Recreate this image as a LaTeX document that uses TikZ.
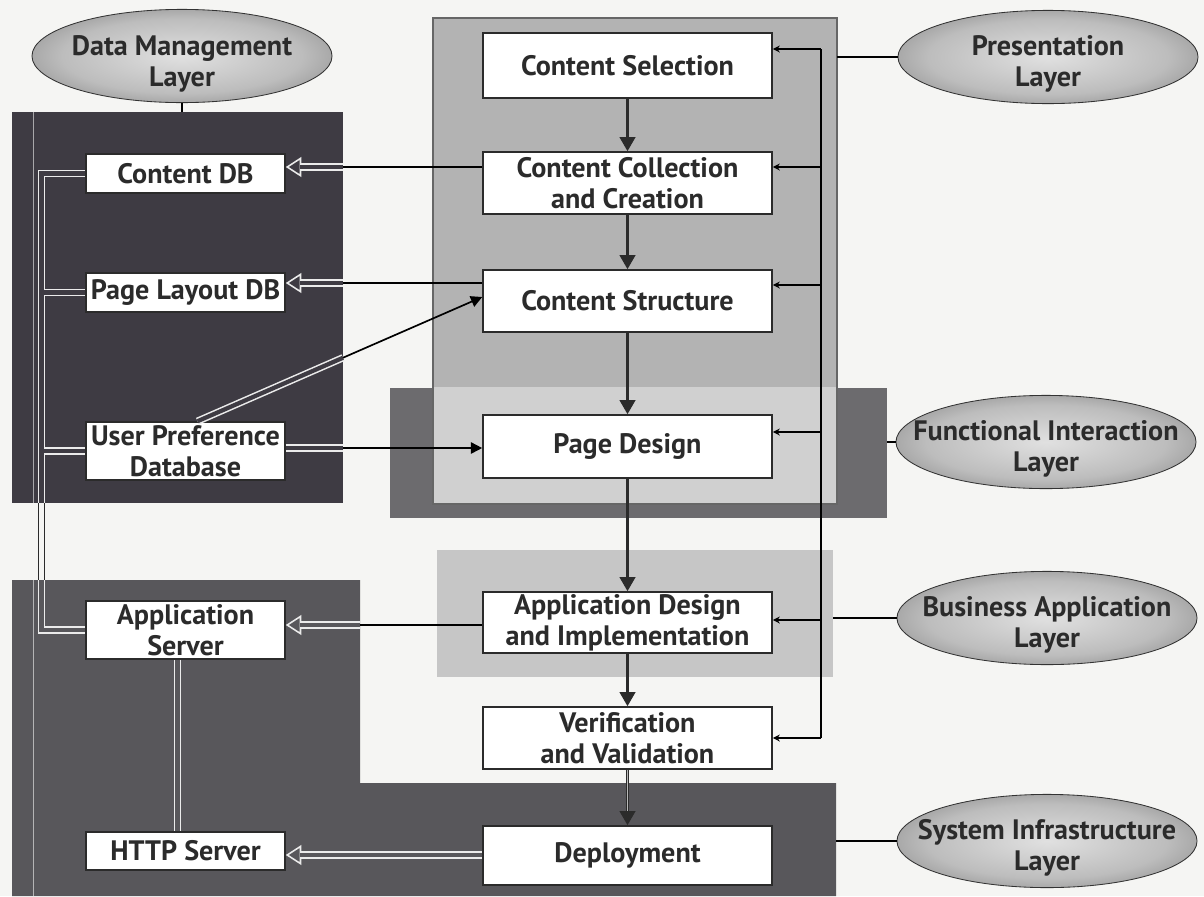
\documentclass[tikz,border=0pt]{standalone}
\usepackage{fontspec}
\setmainfont{PT Sans}
\usetikzlibrary{arrows.meta,shapes.geometric,calc}
\definecolor{pagebg}{HTML}{F5F5F3}
\definecolor{dmcol}{HTML}{3E3B43}
\definecolor{infcol}{HTML}{58575B}
\definecolor{fincol}{HTML}{6C6B6E}
\definecolor{prcol}{HTML}{B3B3B3}
\definecolor{prlow}{HTML}{D0D0D0}
\definecolor{bacol}{HTML}{C6C6C6}
\definecolor{ink}{HTML}{2B2B2B}
\pgfdeclareradialshading{layershade}{\pgfpoint{0bp}{0bp}}{color(0bp)=(white!88!black); color(20bp)=(white!74!black); color(32bp)=(black!45); color(42bp)=(black!74); color(50bp)=(black!90)}
\begin{document}
\begin{tikzpicture}[x=0.025cm,y=-0.025cm,
  font=\bfseries\fontsize{20}{22}\selectfont,
  box/.style={draw=ink, line width=1.1pt, fill=white, text=ink, align=center, inner sep=0pt},
  cbox/.style={box, minimum width=7.225cm},
  lbox/.style={box, minimum width=4.975cm},
  layer/.style={ellipse, draw=black!80, line width=0.6pt, shade, shading=layershade,
    minimum width=7.5cm, minimum height=2.33cm, inner sep=0pt},
  ltext/.style={align=center, text=ink, inner sep=0pt},
  flow/.style={draw=ink, line width=1.8pt, -{Triangle[length=10pt,width=11pt]}},
  blk/.style={draw=black, line width=1.2pt},
  blkarrow/.style={blk, -{Triangle[length=8pt,width=8pt]}},
  fb/.style={draw=black, line width=0.9pt},
  fbarrow/.style={fb, -{Stealth[length=5pt,width=5pt]}},
  tipo/.style={draw=white!92!black, line width=1.1pt, -{Triangle[open,length=11pt,width=14pt]}},
  pipe/.style={draw=white!92!black, line width=1.1pt, double=dmcol, double distance=3pt},
  busw/.style={draw=white!92!black, line width=5.2pt},
  busc/.style={line width=3pt}
]
\useasboundingbox (0,0) rectangle (1204,896);
\fill[pagebg] (0,0) rectangle (1204,896);
% background regions
\fill[fincol] (390,388) rectangle (887,518);
\fill[prcol] (433,18) rectangle (837,504);
\fill[prlow] (433,387) rectangle (837,504);
\draw[black!60, line width=1.1pt] (433,18) rectangle (837,504);
\fill[bacol] (437,550) rectangle (833,677);
\fill[dmcol] (12,112) rectangle (343,503);
\fill[infcol] (12,580) -- (360,580) -- (360,783) -- (836,783) -- (836,896) -- (12,896) -- cycle;
\draw[white!55!dmcol, line width=0.4pt] (33,112) -- (33,503);
\draw[white!55!infcol, line width=0.4pt] (33,580) -- (33,896);

% helper coordinates
\coordinate (bx) at (41.5,0);
\coordinate (dmR) at (343,0);
\coordinate (dmRt) at (343,112);
\coordinate (dmRb) at (343,503);
\coordinate (dmT) at (0,112);
\coordinate (dmB) at (0,503);
\coordinate (infT) at (0,580);
\coordinate (infR) at (360,0);
\coordinate (prR) at (837,0);
\coordinate (fiR) at (887,0);
\coordinate (baR) at (833,0);
\coordinate (siR) at (836,0);
\coordinate (l1) at (0,167);
\coordinate (l2) at (0,283);
\coordinate (l3) at (0,448);
\coordinate (l4) at (0,625);
\coordinate (l5) at (0,855);
\coordinate (f1) at (821,49);
\coordinate (f2) at (821,167);
\coordinate (f3) at (821,285);
\coordinate (f4) at (821,432);
\coordinate (f5) at (821,620);
\coordinate (f6) at (821,738);

% central process boxes
\node[cbox, minimum height=1.625cm] (cs)  at (627.5,65.5)  {Content Selection};
\node[cbox, minimum height=1.55cm]  (ccc) at (627.5,183)   {Content Collection\\and Creation};
\node[cbox, minimum height=1.55cm]  (cst) at (627.5,301)   {Content Structure};
\node[cbox, minimum height=1.575cm] (pd)  at (627.5,446.5) {Page Design};
\node[cbox, minimum height=1.525cm] (adi) at (627.5,622.5) {Application Design\\and Implementation};
\node[cbox, minimum height=1.55cm]  (vv)  at (627.5,738)   {Verification\\and Validation};
\node[cbox, minimum height=1.475cm] (dep) at (627.5,855.5) {Deployment};

% left boxes
\node[lbox, minimum height=0.975cm] (cdb)  at (185.5,173.5) {Content DB};
\node[lbox, minimum height=0.975cm] (pld)  at (185.5,292.5) {Page Layout DB};
\node[lbox, minimum height=1.45cm]  (up)   at (185.5,451)   {User Preference\\Database};
\node[lbox, minimum height=1.45cm]  (as)   at (185.5,630)   {Application\\Server};
\node[lbox, minimum height=0.95cm]  (http) at (185.5,851)   {HTTP Server};

% layer ellipses
\node[layer] (dml) at (182,56) {};
\node[ltext] (dmlt) at (182,64) {Data Management\\Layer};
\node[layer] (prl) at (1048,57) {};
\node[ltext] (prlt) at (1048,64) {Presentation\\Layer};
\node[layer] (fil) at (1046,442) {};
\node[ltext] (filt) at (1046,449) {Functional Interaction\\Layer};
\node[layer] (bal) at (1047,618) {};
\node[ltext] (balt) at (1047,625) {Business Application\\Layer};
\node[layer] (sil) at (1047,841) {};
\node[ltext] (silt) at (1047,848) {System Infrastructure\\Layer};

% layer connectors
\draw[blk] (dml.south) -- (dml.south |- dmT);
\draw[blk] (prl.west) -- (prl.west -| prR);
\draw[blk] (fil.west) -- (fil.west -| fiR);
\draw[blk] (bal.west) -- (bal.west -| baR);
\draw[blk] (sil.west) -- (sil.west -| siR);

% main flow
\draw[flow] (cs.south) -- (ccc.north);
\draw[flow] (ccc.south) -- (cst.north);
\draw[flow] (cst.south) -- (pd.north);
\draw[flow] (pd.south) -- (adi.north);
\draw[flow] (adi.south) -- (vv.north);
\draw[flow] (vv.south) -- (dep.north);
\draw[gray!55, line width=0.6pt, shorten >=10pt] (vv.south) -- (dep.north);

% feedback line on the right
\draw[fb] (f1) -- (f6);
\draw[fbarrow] (f1) -- (cs.east |- f1);
\draw[fbarrow] (f2) -- (ccc.east |- f2);
\draw[fbarrow] (f3) -- (cst.east |- f3);
\draw[fbarrow] (f4) -- (pd.east |- f4);
\draw[fbarrow] (f5) -- (adi.east |- f5);
\draw[fbarrow] (f6) -- (vv.east |- f6);

% data bus on the left (two passes)
\draw[busw] (cdb.west) -- (cdb.west -| bx) -- (bx |- dmB);
\draw[busw] (pld.west) -- (pld.west -| bx);
\draw[busw] (up.west) -- (up.west -| bx);
\draw[busw] (bx |- infT) -- (as.west -| bx) -- (as.west);
\draw[busw, draw=ink] (bx |- dmB) -- (bx |- infT);
\draw[busc, draw=dmcol] (cdb.west) -- (cdb.west -| bx) -- (bx |- dmB);
\draw[busc, draw=dmcol] (pld.west) -- (pld.west -| bx);
\draw[busc, draw=dmcol] (up.west) -- (up.west -| bx);
\draw[busc, draw=pagebg] (bx |- dmB) -- (bx |- infT);
\draw[busc, draw=infcol] (bx |- infT) -- (as.west -| bx) -- (as.west);
\draw[pipe, double=infcol] ($(as.south)+(-8,0)$) -- ($(http.north)+(-8,0)$);

% content collection -> content DB
\draw[blk] (ccc.west |- l1) -- (dmR |- l1);
\draw[tipo] (dmR |- l1) -- (cdb.east |- l1);
\draw[pipe, shorten >=10pt] (dmR |- l1) -- (cdb.east |- l1);
% content structure -> page layout DB
\draw[blk] (cst.west |- l2) -- (dmR |- l2);
\draw[tipo] (dmR |- l2) -- (pld.east |- l2);
\draw[pipe, shorten >=10pt] (dmR |- l2) -- (pld.east |- l2);
% user preference -> content structure
\coordinate (upA) at ($(up.north)+(12,0)$);
\coordinate (cstA) at ($(cst.west)+(0,-4)$);
\coordinate (upX) at (intersection of upA--cstA and dmRt--dmRb);
\draw[pipe] (upA) -- (upX);
\draw[blkarrow] (upX) -- (cstA);
% user preference -> page design
\draw[pipe] (up.east |- l3) -- (dmR |- l3);
\draw[blkarrow] (dmR |- l3) -- (pd.west |- l3);
% application design -> application server
\draw[blk] (adi.west |- l4) -- (infR |- l4);
\draw[tipo] (infR |- l4) -- (as.east |- l4);
\draw[pipe, double=infcol, shorten >=10pt] (infR |- l4) -- (as.east |- l4);
% deployment -> HTTP server
\draw[tipo] (dep.west |- l5) -- (http.east |- l5);
\draw[pipe, double=infcol, shorten >=10pt] (dep.west |- l5) -- (http.east |- l5);
\end{tikzpicture}
\end{document}
